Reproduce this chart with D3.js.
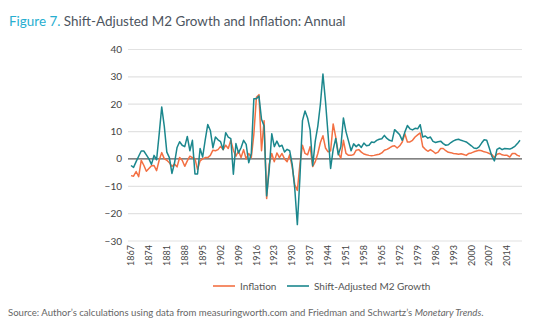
<!DOCTYPE html>
<html lang="en">
<head>
    <meta charset="UTF-8">
    <title>Shift-Adjusted M2 Growth and Inflation: Annual</title>
    <style>
        body { margin: 0; background: #fff; }
        text { font-family: Lato, "Open Sans", sans-serif; }
        .grid line { stroke: #e2e2e2; stroke-width: 1.2; }
        .tick-label { fill: #444; }
    </style>
</head>
<body>
    <script src="https://cdn.jsdelivr.net/npm/d3@7"></script>
    <script>

        var firstYear = 1867, lastYear = 2019;

        var years = d3.range(firstYear, lastYear + 1);

        var inflation = [
            -6.1, -6.3, -4.6, -6.5, -0.5, -2.3, -4.5, -3.5, -2.5, -2.4,
            -4.3, -0.5, 2.3, 0.1, -0.5, -1.4, -2.7, -1.9, -2.9, 0.5,
            -0.5, -2.7, -0.7, 1.0, 0.5, 0.1, -3.9, -0.7, 0.0, 0.5,
            0.5, 1.3, 3.2, 3.0, 3.4, 4.6, 3.4, 5.0, 3.8, 6.8,
            3.2, 1.0, 2.9, 0.5, 3.4, 0.0, 2.0, 0.5, 9.0, 22.5,
            23.5, 3.0, 14.0, -14.5, -2.0, 2.0, -1.0, 2.2, 0.5, 2.0,
            0.0, -1.0, 1.5, -3.0, -9.5, -11.5, -2.0, 5.0, 2.0, 1.5,
            4.5, -2.8, -1.0, 2.0, 6.0, 8.5, 4.0, 2.6, 3.0, 12.8,
            8.0, 2.0, 0.3, 6.8, 2.0, 1.3, 1.3, 1.6, 3.2, 3.4,
            2.5, 1.8, 1.5, 1.3, 1.2, 1.3, 1.5, 1.7, 2.2, 3.2,
            3.5, 4.0, 4.6, 4.8, 4.0, 4.8, 6.2, 9.2, 6.2, 6.2,
            6.8, 8.0, 8.8, 9.5, 4.5, 3.5, 2.8, 3.4, 2.8, 2.0,
            2.5, 3.8, 3.8, 3.0, 2.4, 2.3, 2.0, 1.9, 1.7, 1.9,
            1.6, 1.3, 2.0, 2.2, 2.6, 2.9, 3.2, 3.0, 2.6, 2.4,
            2.0, 1.6, 0.5, 1.7, 2.0, 1.5, 1.3, 1.3, 0.7, 2.0,
            2.0, 1.3, 1.0
        ];

        var m2Growth = [
            -2.4, -3.1, -1.0, 1.0, 2.9, 2.9, 1.5, 0.0, -2.0, 1.3,
            -0.3, 9.0, 19.0, 12.0, 2.5, 0.5, -5.3, -1.5, 4.2, 6.3,
            5.0, 4.5, 8.2, 3.0, 6.8, -5.5, -5.5, 3.8, 0.7, 7.0,
            12.6, 10.4, 4.1, 8.0, 7.0, 6.3, 3.4, 9.6, 8.0, 7.4,
            -5.6, 5.6, 2.2, 4.1, 6.8, 5.3, -1.4, 2.0, 22.0, 22.0,
            23.0, 14.5, 12.0, -13.5, -4.0, 9.2, 4.5, 6.5, 4.5, 5.0,
            2.5, 3.5, 3.0, -2.0, -11.0, -24.0, -7.0, 14.0, 17.5, 15.0,
            10.5, -2.5, 6.5, 12.0, 20.0, 31.0, 21.0, 9.0, -3.5, 3.5,
            7.5, 1.5, 4.5, 15.0, 10.0, 6.5, 3.0, 5.5, 4.5, 5.3,
            4.2, 5.8, 4.8, 5.0, 6.2, 6.0, 6.8, 7.2, 7.4, 8.6,
            7.5, 6.8, 6.5, 10.7, 9.8, 8.8, 6.8, 9.8, 12.2, 11.0,
            10.6, 11.2, 11.0, 12.5, 8.0, 8.4, 7.6, 8.0, 6.4, 6.0,
            6.3, 6.5, 5.6, 5.0, 5.2, 6.0, 6.6, 7.0, 7.2, 6.8,
            6.5, 6.2, 5.5, 4.8, 4.0, 3.8, 4.4, 5.8, 7.0, 6.8,
            4.0, 1.0, -0.7, 3.5, 4.0, 3.4, 3.8, 3.7, 3.6, 4.0,
            4.6, 5.6, 6.8
        ];

        var yTicks = [-30, -20, -10, 0, 10, 20, 30, 40];
        var xTickYears = d3.range(firstYear, 2015, 7);

        var seriesNames = ["Inflation", "Shift-Adjusted M2 Growth"];
        var seriesColors = ["#f37043", "#1b878d"];

        var width = 537,
            height = 331;

        var svg = d3.select("body").append("svg")
            .attr("width", width)
            .attr("height", height);

        var x = d3.scaleLinear()
            .domain([firstYear, lastYear])
            .range([131, 520]);

        var y = d3.scaleLinear()
            .domain([-30, 40])
            .range([241, 49.5]);

        // shrink or grow a text's font so it spans the target width
        function fitWidth(sel, size, target) {
            var w = sel.node().getComputedTextLength();
            sel.style("font-size", (size * target / w) + "px");
        }

        // title
        var title = svg.append("text")
            .attr("x", 9)
            .attr("y", 26)
            .style("font-size", "14px");
        title.append("tspan").attr("fill", "#27aed0").text("Figure 7. ");
        title.append("tspan").attr("fill", "#4d5560").text("Shift-Adjusted M2 Growth and Inflation: Annual");
        fitWidth(title, 14, 337);

        // gridlines
        svg.append("g").attr("class", "grid")
            .selectAll("line")
            .data(yTicks.filter(function(d) { return d !== 0; }))
            .enter().append("line")
            .attr("x1", 128).attr("x2", 522)
            .attr("y1", function(d) { return y(d); })
            .attr("y2", function(d) { return y(d); });

        svg.append("line")
            .attr("x1", 128).attr("x2", 522)
            .attr("y1", y(0)).attr("y2", y(0))
            .attr("stroke", "#5a5a5a")
            .attr("stroke-width", 1.3);

        // y labels
        svg.append("g")
            .selectAll("text")
            .data(yTicks)
            .enter().append("text")
            .attr("class", "tick-label")
            .attr("x", 122)
            .attr("y", function(d) { return y(d); })
            .attr("dy", "0.35em")
            .attr("text-anchor", "end")
            .style("font-size", "10px")
            .text(function(d) { return d < 0 ? "\u2212" + Math.abs(d) : d; });

        // x labels (rotated)
        svg.append("g")
            .selectAll("text")
            .data(xTickYears)
            .enter().append("text")
            .attr("class", "tick-label")
            .attr("transform", function(d) { return "translate(" + x(d) + ",245) rotate(-90)"; })
            .attr("dy", "0.35em")
            .attr("text-anchor", "end")
            .style("font-size", "9px")
            .text(function(d) { return d; });

        // lines
        var line = d3.line()
            .x(function(d, i) { return x(years[i]); })
            .y(function(d) { return y(d); });

        [inflation, m2Growth].forEach(function(values, k) {
            svg.append("path")
                .datum(values)
                .attr("fill", "none")
                .attr("stroke", seriesColors[k])
                .attr("stroke-width", 1.5)
                .attr("stroke-linejoin", "round")
                .attr("d", line);
        });

        // legend
        var legendX = [213, 287];
        var legend = svg.append("g")
            .selectAll("g")
            .data(seriesNames)
            .enter().append("g")
            .attr("transform", function(d, i) { return "translate(" + legendX[i] + ",286)"; });
        legend.append("line")
            .attr("x1", 0).attr("x2", 22)
            .attr("stroke", function(d, i) { return seriesColors[i]; })
            .attr("stroke-width", 1.6);
        legend.append("text")
            .attr("x", 27)
            .attr("dy", "0.35em")
            .attr("fill", "#555")
            .style("font-size", "10px")
            .text(function(d) { return d; });

        // source
        var source = svg.append("text")
            .attr("x", 8)
            .attr("y", 316)
            .attr("fill", "#666")
            .style("font-size", "9px");
        source.append("tspan").text("Source: Author\u2019s calculations using data from measuringworth.com and Friedman and Schwartz\u2019s ");
        source.append("tspan").style("font-style", "italic").text("Monetary Trends");
        source.append("tspan").text(".");
        fitWidth(source, 9, 476);

    </script>
</body>
</html>
